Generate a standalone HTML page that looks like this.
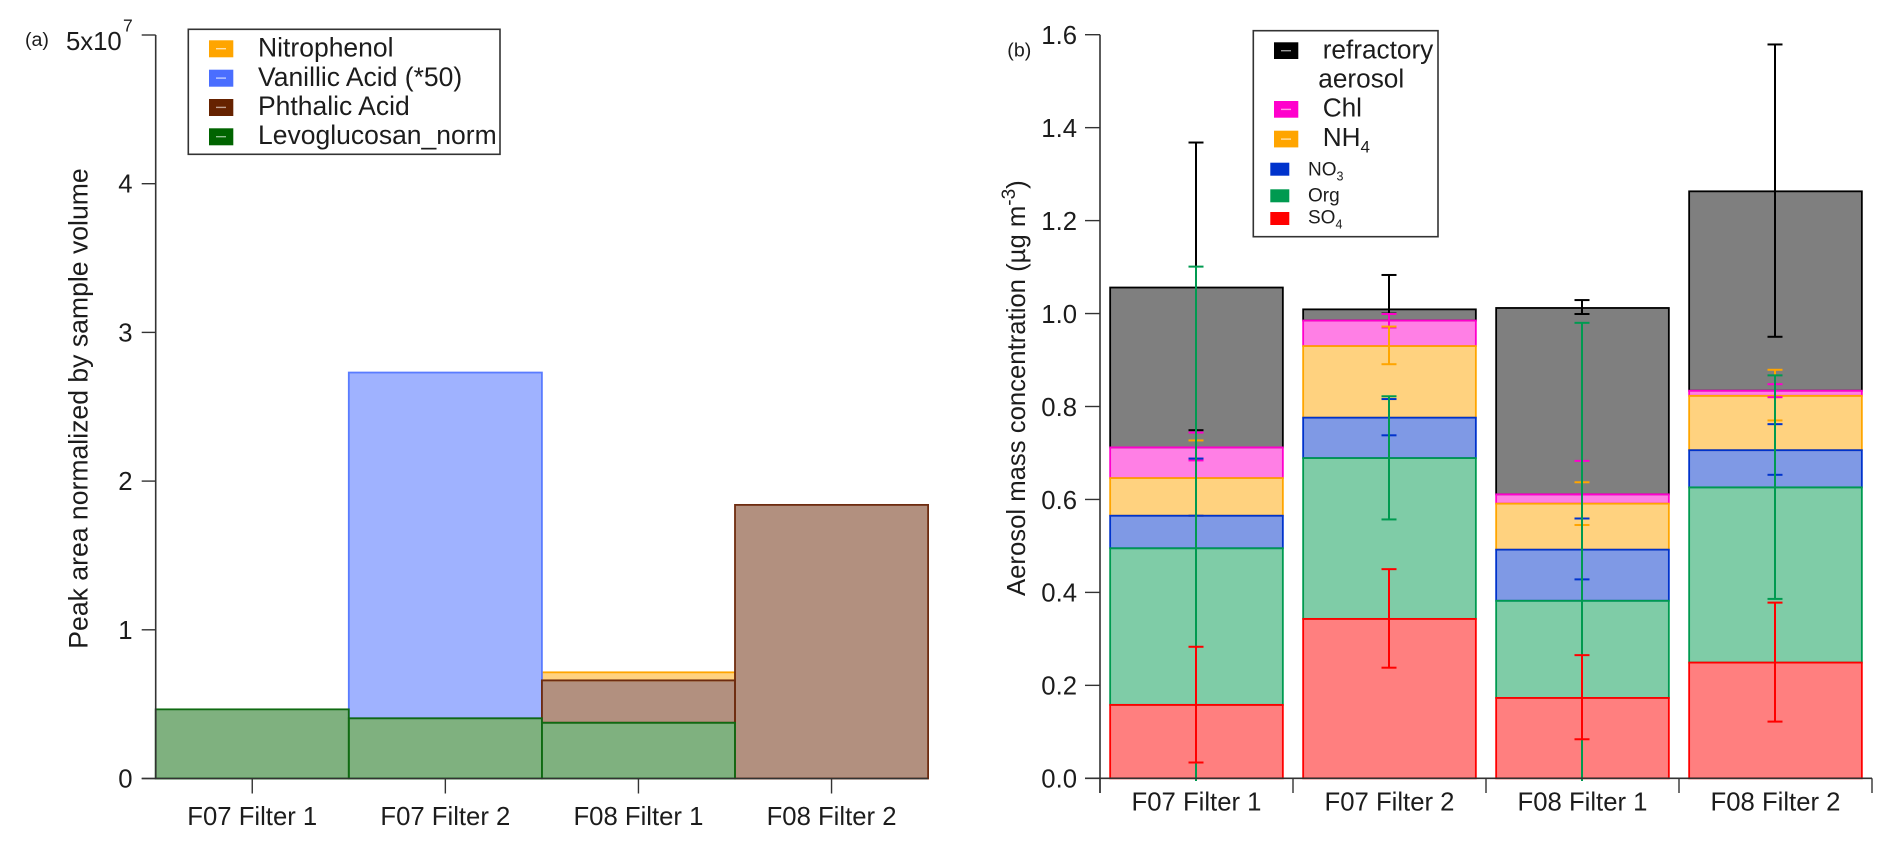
<!DOCTYPE html>
<html lang="en">
<head>
<meta charset="utf-8">
<title>Peak area and aerosol mass concentration by filter</title>
<style>
  html, body { margin: 0; padding: 0; background: #fff; }
  body { width: 1892px; height: 845px; overflow: hidden; }
  svg { display: block; filter: blur(0.35px); }
  text { font-family: "Liberation Sans", Arial, sans-serif; fill: #1c1c1c; }
</style>
</head>
<body>
<svg id="figure" xmlns="http://www.w3.org/2000/svg" width="1892" height="845" viewBox="0 0 1892 845">
  <defs>
    <clipPath id="plot-b-clip"><rect x="1100" y="20" width="792" height="761"></rect></clipPath>
  </defs>
  <rect x="0" y="0" width="1892" height="845" fill="#ffffff"></rect>
  <g id="panel-a"></g>
  <g id="panel-b"></g>

  <text x="25" y="46" font-size="19.6">(a)</text>
  <text x="1007.3" y="56.7" font-size="19.6">(b)</text>

  <text transform="translate(87.3,168.3) rotate(-90)" text-anchor="end" font-size="26.6">Peak area normalized by sample volume</text>
  <text transform="translate(1025,596) rotate(-90)" font-size="25.7">Aerosol mass concentration (µg m<tspan dy="-10" font-size="19">-3</tspan><tspan dy="10">)</tspan></text>

  <g>
    <rect x="188.3" y="29.3" width="311.7" height="125" fill="#fff" stroke="#333" stroke-width="1.6"></rect>
    <g>
      <rect x="209" y="40.3" width="24.3" height="17" fill="#ffa500"></rect>
      <rect x="216" y="48" width="10" height="1.4" fill="#ffe0a8"></rect>
      <text x="258" y="56.7" font-size="26.5">Nitrophenol</text>
    </g>
    <g>
      <rect x="209" y="69.7" width="24.3" height="17" fill="#4a6eff"></rect>
      <rect x="216" y="77.4" width="10" height="1.4" fill="#c0ceff"></rect>
      <text x="258" y="86" font-size="26.5">Vanillic Acid (*50)</text>
    </g>
    <g>
      <rect x="209" y="99" width="24.3" height="17" fill="#662200"></rect>
      <rect x="216" y="106.7" width="10" height="1.4" fill="#c0a090"></rect>
      <text x="258" y="115" font-size="26.5">Phthalic Acid</text>
    </g>
    <g>
      <rect x="209" y="128.3" width="24.3" height="17" fill="#006400"></rect>
      <rect x="216" y="136" width="10" height="1.4" fill="#90c090"></rect>
      <text x="258" y="144" font-size="26.5">Levoglucosan_norm</text>
    </g>
  </g>

  <g>
    <rect x="1253.3" y="30.7" width="184.7" height="206" fill="#fff" stroke="#333" stroke-width="1.6"></rect>
    <g>
      <rect x="1274" y="42.3" width="24.3" height="16.7" fill="#000000"></rect>
      <rect x="1281" y="50" width="10" height="1.4" fill="#999"></rect>
      <text x="1322.7" y="58.3" font-size="26.2">refractory</text>
      <text x="1318.3" y="87.3" font-size="26.2">aerosol</text>
    </g>
    <g>
      <rect x="1274" y="101" width="24.3" height="16.7" fill="#ff00cc"></rect>
      <rect x="1281" y="108.7" width="10" height="1.4" fill="#ff99e6"></rect>
      <text x="1322.7" y="116.7" font-size="26.2">Chl</text>
    </g>
    <g>
      <rect x="1274" y="130.7" width="24.3" height="16.7" fill="#ffa500"></rect>
      <rect x="1281" y="138.4" width="10" height="1.4" fill="#ffe0a8"></rect>
      <text x="1322.7" y="146" font-size="26.2">NH<tspan dy="6.7" font-size="17">4</tspan></text>
    </g>
    <g>
      <rect x="1270.3" y="162.7" width="19" height="13" fill="#0033cc"></rect>
      <text x="1308" y="175.7" font-size="19">NO<tspan dy="5" font-size="12.5">3</tspan></text>
    </g>
    <g>
      <rect x="1270.3" y="189.3" width="19" height="13" fill="#009a50"></rect>
      <text x="1308" y="201.7" font-size="19">Org</text>
    </g>
    <g>
      <rect x="1270.3" y="212" width="19" height="13" fill="#ff0000"></rect>
      <text x="1308" y="223.3" font-size="19">SO<tspan dy="5" font-size="12.5">4</tspan></text>
    </g>
  </g>
</svg>

<script>
// ---- shared data ----
const categories = ['F07 Filter 1', 'F07 Filter 2', 'F08 Filter 1', 'F08 Filter 2'];

// ---- panel (a): stacked peak areas, units of 1e7 ----
const levoglucosan = [0.465, 0.405, 0.375, 0];
const phthalicAcid = [0, 0, 0.285, 1.84];
const vanillicAcid = [0, 2.325, 0, 0];
const nitrophenol = [0, 0, 0.054, 0];
const ticksA = [0, 1, 2, 3, 4];
const ticksALabels = ['0', '1', '2', '3', '4'];
const ticksAMax = 5;

// ---- panel (b): stacked aerosol mass, ug/m3 ----
const so4 = [0.158, 0.343, 0.173, 0.249];
const org = [0.337, 0.346, 0.209, 0.377];
const no3 = [0.070, 0.087, 0.110, 0.080];
const nh4 = [0.081, 0.154, 0.099, 0.117];
const chl = [0.066, 0.055, 0.020, 0.011];
const refractory = [0.344, 0.024, 0.401, 0.429];

const so4Hi = [0.283, 0.450, 0.265, 0.378];
const so4Lo = [0.034, 0.238, 0.084, 0.122];
const orgHi = [1.101, 0.822, 0.980, 0.867];
const orgLo = [-0.110, 0.557, -0.216, 0.386];
const no3Hi = [0.688, 0.816, 0.559, 0.762];
const no3Lo = [0.565, 0.738, 0.428, 0.653];
const nh4Hi = [0.727, 0.972, 0.637, 0.879];
const nh4Lo = [0.565, 0.891, 0.545, 0.770];
const chlHi = [0.744, 0.999, 0.683, 0.848];
const chlLo = [0.684, 0.970, 0.611, 0.820];
const refractoryHi = [1.368, 1.083, 1.029, 1.579];
const refractoryLo = [0.749, 1.000, 0.999, 0.950];

const ticksB = [0, 0.2, 0.4, 0.6, 0.8, 1.0, 1.2, 1.4, 1.6];
const ticksBLabels = ['0.0', '0.2', '0.4', '0.6', '0.8', '1.0', '1.2', '1.4', '1.6'];

// ---- helpers ----
const SVGNS = 'http://www.w3.org/2000/svg';
function make(tag, attrs, parent) {
  const n = document.createElementNS(SVGNS, tag);
  for (const k in attrs) n.setAttribute(k, attrs[k]);
  parent.appendChild(n);
  return n;
}
const AXIS = '#333333';

// ---- panel (a) ----
const panelA = document.getElementById('panel-a');
const ya = v => 778.5 - v * 148.7;
const xaLeft = i => 155.7 + i * 193.1;
const xaCenter = i => xaLeft(i) + 193.1 / 2;

const stackA = [
  { key: 'nitrophenol', values: nitrophenol, base: [levoglucosan, phthalicAcid, vanillicAcid], fill: 'rgba(255,165,0,0.5)', stroke: '#ffa500' },
  { key: 'vanillic-acid', values: vanillicAcid, base: [levoglucosan, phthalicAcid], fill: 'rgba(64,102,255,0.5)', stroke: '#5a7cff' },
  { key: 'phthalic-acid', values: phthalicAcid, base: [levoglucosan], fill: 'rgba(102,34,0,0.5)', stroke: '#6e2c10' },
  { key: 'levoglucosan', values: levoglucosan, base: [], fill: 'rgba(0,100,0,0.5)', stroke: '#0f6a12' }
];
stackA.forEach(s => {
  s.values.forEach((v, i) => {
    if (v <= 0) return;
    const b = s.base.reduce((acc, arr) => acc + arr[i], 0);
    const r = make('rect', {
      x: xaLeft(i), y: ya(b + v), width: 193.1, height: ya(b) - ya(b + v),
      fill: s.fill, stroke: s.stroke, 'stroke-width': 1.8
    }, panelA);
    
    
  });
});

const axisAY = make('line', { x1: 155.7, x2: 155.7, y1: ya(ticksAMax), y2: ya(0), stroke: AXIS, 'stroke-width': 1.6 }, panelA);



const axisAX = make('line', { x1: 141.7, x2: 928, y1: ya(0), y2: ya(0), stroke: AXIS, 'stroke-width': 1.6 }, panelA);



ticksA.forEach((t, i) => {
  const tk = make('line', { x1: 141.7, x2: 155.7, y1: ya(t), y2: ya(t), stroke: AXIS, 'stroke-width': 1.4 }, panelA);
  
  
  const lb = make('text', { x: 132.5, y: ya(t) + 9, 'text-anchor': 'end', 'font-size': 25.7 }, panelA);
  lb.textContent = ticksALabels[i];
  
  
});

const topTickA = make('line', { x1: 141.7, x2: 155.7, y1: ya(ticksAMax), y2: ya(ticksAMax), stroke: AXIS, 'stroke-width': 1.4 }, panelA);



const topLabelA = make('text', { x: 66, y: 50, 'font-size': 25.7 }, panelA);
topLabelA.textContent = '5x10';



const topExpA = make('text', { x: 123, y: 31.7, 'font-size': 17.5 }, panelA);
topExpA.textContent = '7';



categories.forEach((c, i) => {
  const tk = make('line', { x1: xaCenter(i), x2: xaCenter(i), y1: ya(0), y2: 793.5, stroke: AXIS, 'stroke-width': 1.4 }, panelA);
  
  
  const lb = make('text', { x: xaCenter(i), y: 825, 'text-anchor': 'middle', 'font-size': 25.7 }, panelA);
  lb.textContent = c;
  
  
});

// ---- panel (b) ----
const panelB = document.getElementById('panel-b');
const yb = v => 778.3 - v * 464.75;
const xbTick = i => 1100 + i * 193;
const xbCenter = i => xbTick(i) + 193 / 2;
const BAR_W = 172.7;

// drawn back to front, as the reference overlays each series on the previous one
const stackB = [
  { key: 'refractory', values: refractory, hi: refractoryHi, lo: refractoryLo, base: [so4, org, no3, nh4, chl], color: '#000000', rgb: '0,0,0' },
  { key: 'chl', values: chl, hi: chlHi, lo: chlLo, base: [so4, org, no3, nh4], color: '#ff00cc', rgb: '255,0,204' },
  { key: 'nh4', values: nh4, hi: nh4Hi, lo: nh4Lo, base: [so4, org, no3], color: '#ffa500', rgb: '255,165,0' },
  { key: 'no3', values: no3, hi: no3Hi, lo: no3Lo, base: [so4, org], color: '#0033cc', rgb: '0,51,204' },
  { key: 'org', values: org, hi: orgHi, lo: orgLo, base: [so4], color: '#009a50', rgb: '0,154,80' },
  { key: 'so4', values: so4, hi: so4Hi, lo: so4Lo, base: [], color: '#ff0000', rgb: '255,0,0' }
];

const errLayer = document.createElementNS(SVGNS, 'g');
stackB.forEach(s => {
  s.values.forEach((v, i) => {
    const b = s.base.reduce((acc, arr) => acc + arr[i], 0);
    const cx = xbCenter(i);
    const r = make('rect', {
      x: cx - BAR_W / 2, y: yb(b + v), width: BAR_W, height: yb(b) - yb(b + v),
      fill: 'rgba(' + s.rgb + ',0.5)', stroke: s.color, 'stroke-width': 1.8
    }, panelB);
    
    
  });
});

panelB.appendChild(errLayer);
errLayer.setAttribute('clip-path', 'url(#plot-b-clip)');



stackB.forEach(s => {
  s.values.forEach((v, i) => {
    const cx = Math.floor(xbCenter(i));
    const g = make('g', { stroke: s.color, 'stroke-width': 2 }, errLayer);
    
    
    make('line', { x1: cx, x2: cx, y1: yb(s.hi[i]), y2: yb(s.lo[i]) }, g);
    make('line', { x1: cx - 7.5, x2: cx + 7.5, y1: yb(s.hi[i]), y2: yb(s.hi[i]) }, g);
    make('line', { x1: cx - 7.5, x2: cx + 7.5, y1: yb(s.lo[i]), y2: yb(s.lo[i]) }, g);
  });
});

const axisBY = make('line', { x1: 1100, x2: 1100, y1: yb(1.6), y2: 793, stroke: AXIS, 'stroke-width': 1.6 }, panelB);



const axisBX = make('line', { x1: 1085, x2: xbTick(categories.length), y1: yb(0), y2: yb(0), stroke: AXIS, 'stroke-width': 1.6 }, panelB);



ticksB.forEach((t, i) => {
  const tk = make('line', { x1: 1085, x2: 1100, y1: yb(t), y2: yb(t), stroke: AXIS, 'stroke-width': 1.4 }, panelB);
  
  
  const lb = make('text', { x: 1077, y: yb(t) + 9.3, 'text-anchor': 'end', 'font-size': 25.7 }, panelB);
  lb.textContent = ticksBLabels[i];
  
  
});

for (let i = 0; i <= categories.length; i++) {
  const tk = make('line', { x1: xbTick(i), x2: xbTick(i), y1: yb(0), y2: 793, stroke: AXIS, 'stroke-width': 1.4 }, panelB);
  
  
}

categories.forEach((c, i) => {
  const lb = make('text', { x: xbCenter(i), y: 810.7, 'text-anchor': 'middle', 'font-size': 25.7 }, panelB);
  lb.textContent = c;
  
  
});
</script>
</body>
</html>
